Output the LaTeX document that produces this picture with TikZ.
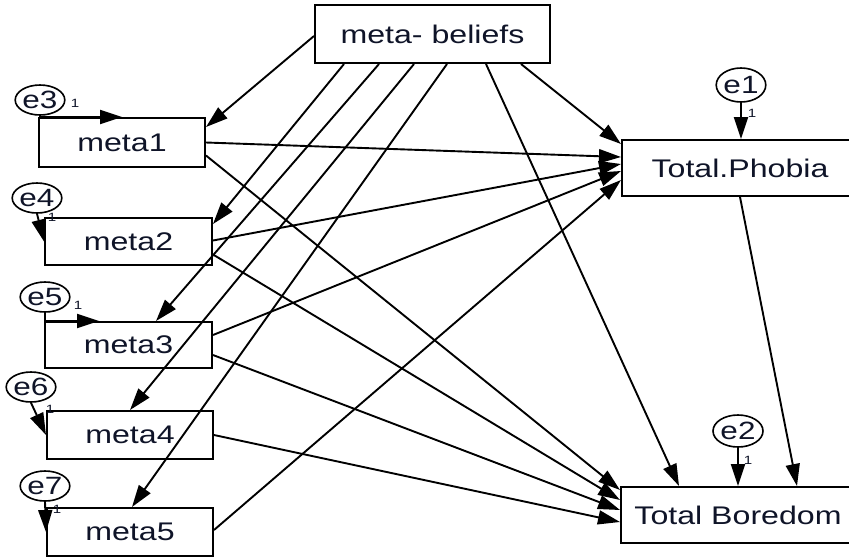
\documentclass[tikz,border=0pt]{standalone}
\usepackage{fontspec}
\setmainfont{Liberation Sans}[FakeStretch=1.26]
\usetikzlibrary{arrows.meta,calc,shapes.geometric}
\definecolor{txt}{RGB}{15,20,40}
\begin{document}
\begin{tikzpicture}[x=1pt,y=-1pt,
  box/.style={draw,line width=2pt,rectangle,inner sep=0pt,font=\fontsize{25.5}{30}\selectfont,text=txt},
  err/.style={draw,ellipse,line width=1.6pt,inner sep=0pt,minimum width=46pt,minimum height=30pt,font=\fontsize{25}{28}\selectfont,text=txt},
  arr/.style={line width=1.9pt,-{Triangle[length=22pt,width=14pt]}},
  one/.style={font=\fontsize{12}{14}\selectfont,text=txt,inner sep=0pt}]
\useasboundingbox (0,0) rectangle (849,558);
\clip (0,0) rectangle (849,558);
% boxes
\node[box,minimum width=235pt,minimum height=58pt] (mb) at (432.5,34) {meta- beliefs};
\node[box,minimum width=166pt,minimum height=49pt] (m1) at (122,142.5) {meta1};
\node[box,minimum width=167pt,minimum height=47pt] (m2) at (128.5,241.5) {meta2};
\node[box,minimum width=167pt,minimum height=46pt] (m3) at (128.5,345) {meta3};
\node[box,minimum width=166pt,minimum height=48pt] (m4) at (130,435) {meta4};
\node[box,minimum width=166pt,minimum height=48pt] (m5) at (130,532) {meta5};
\node[box,minimum width=236pt,minimum height=56pt] (tp) at (740,168) {Total.Phobia};
\node[box,minimum width=234pt,minimum height=56pt] (tb) at (738,515) {Total Boredom};
% errors
\node[err] (e3) at (40,100) {e3};
\node[err] (e4) at (37,198) {e4};
\node[err] (e5) at (45,297) {e5};
\node[err] (e6) at (31,387) {e6};
\node[err] (e7) at (45,486) {e7};
\node[err,minimum width=48pt,minimum height=34pt] (e1) at (741,85) {e1};
\node[err,minimum width=50pt,minimum height=32pt] (e2) at (738,431) {e2};
% weight labels
\node[one] (l3) at (75,103) {1};
\node[one] (l4) at (52,217) {1};
\node[one] (l5) at (78,305) {1};
\node[one] (l6) at (50,409) {1};
\node[one] (l7) at (57,509) {1};
\node[one] (l1) at (752,113) {1};
\node[one] (l2) at (748,460) {1};
% error arrows
\draw[arr] (e3.south) |- (m1.north);
\draw[arr] (e5.south) |- ($(m3.north west)+(55,0)$);
\draw[arr] (e4.south) -- (m2.west);
\draw[arr] (e6.south) -- (m4.west);
\draw[arr] (e7.south) -- (m5.west);
\draw[arr] (e1.south) -- (e1.south |- tp.north);
\draw[arr] (e2.south) -- (tb.north);
% from meta-beliefs
\draw[arr] ($(mb.north west)+(0,32)$) -- ($(m1.north east)+(0,10)$);
\draw[arr] ($(mb.south west)+(30,0)$) -- ($(m2.north east)+(0,7)$);
\draw[arr] ($(mb.south west)+(65,0)$) -- ($(m3.north west)+(112,0)$);
\draw[arr] ($(mb.south west)+(100,0)$) -- (m4.north);
\draw[arr] ($(mb.south west)+(133,0)$) -- ($(m5.north)+(2,0)$);
\draw[arr] ($(mb.south west)+(172,0)$) -- ($(tb.north west)+(59,0)$);
\draw[arr] ($(mb.south west)+(207,0)$) -- ($(tp.north west)+(0,5)$);
% to Total.Phobia
\draw[arr] (m1.east) -- ($(tp.west)+(0,-11)$);
\draw[arr] ($(m2.east)+(0,-1)$) -- ($(tp.west)+(0,-4)$);
\draw[arr] ($(m3.east)+(0,-10)$) -- ($(tp.west)+(0,3)$);
\draw[arr] ($(m5.east)+(0,-2)$) -- ($(tp.west)+(0,12)$);
% to Total Boredom
\draw[arr] ($(m1.east)+(0,13)$) -- ($(tb.west)+(0,-25)$);
\draw[arr] ($(m2.east)+(0,13)$) -- ($(tb.west)+(0,-15)$);
\draw[arr] ($(m3.east)+(0,10)$) -- ($(tb.west)+(0,-5)$);
\draw[arr] (m4.east) -- ($(tb.west)+(0,7)$);
\draw[arr] (tp.south) -- ($(tb.north)+(59,0)$);
\end{tikzpicture}
\end{document}
